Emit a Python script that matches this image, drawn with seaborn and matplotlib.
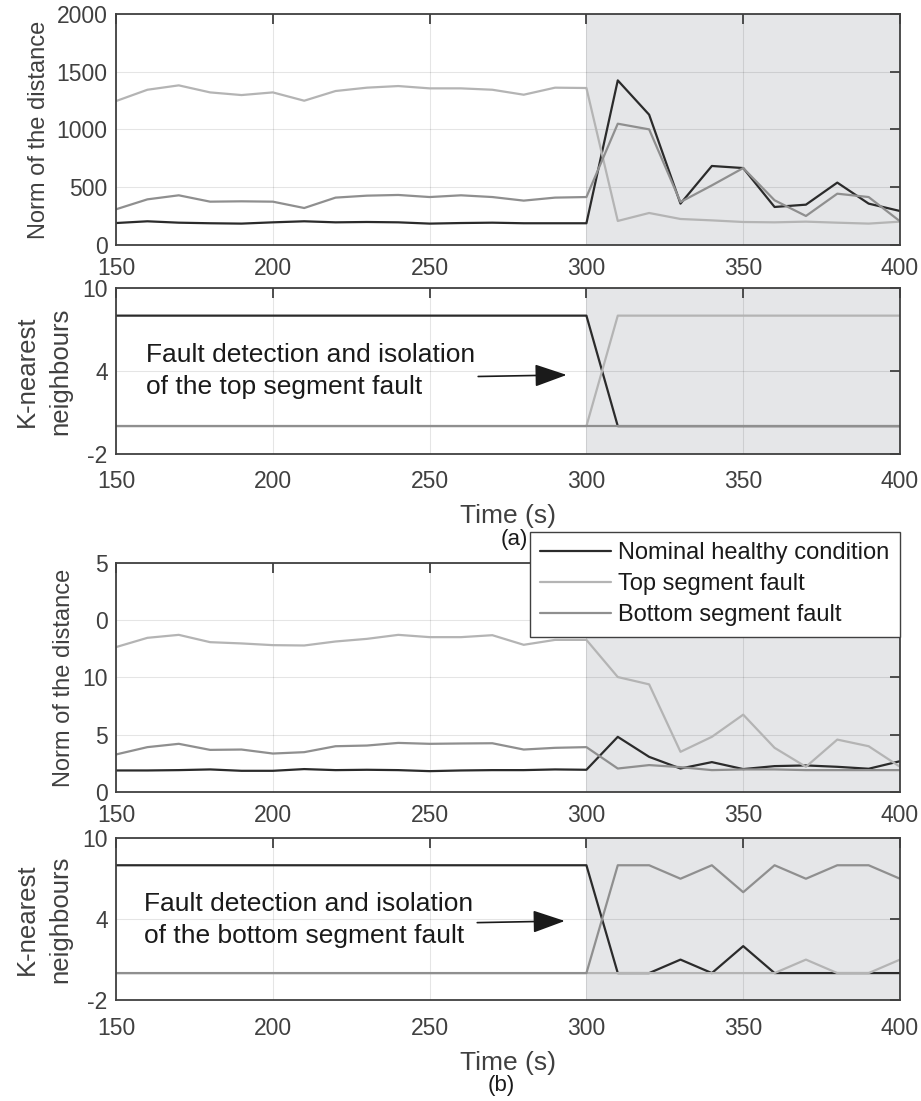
import numpy as np
import pandas as pd
import matplotlib
matplotlib.use('Agg')
import matplotlib.pyplot as plt
from matplotlib.lines import Line2D
import seaborn as sns

# ---- data ----
TIME = list(range(150, 401, 10))
SERIES = ['Nominal healthy condition', 'Top segment fault', 'Bottom segment fault']

# (a) top segment fault case
dist_a_healthy = [190, 205, 193, 188, 185, 196, 205, 196, 199, 196, 185, 190, 193,
                  188, 188, 188, 1425, 1128, 358, 684, 666, 329, 349, 540, 358, 294]
dist_a_top = [1246, 1344, 1382, 1321, 1298, 1321, 1249, 1333, 1362, 1376, 1356, 1356, 1344,
              1301, 1362, 1359, 208, 277, 225, 213, 199, 196, 202, 193, 185, 202]
dist_a_bottom = [309, 395, 430, 375, 378, 375, 320, 410, 427, 433, 415, 430, 415,
                 384, 410, 415, 1050, 1001, 372, 516, 666, 387, 251, 444, 415, 205]
knn_a_healthy = [8] * 16 + [0] * 10
knn_a_top = [0] * 16 + [8] * 10
knn_a_bottom = [0] * 26

# (b) bottom segment fault case
dist_b_healthy = [1.86, 1.86, 1.89, 1.95, 1.83, 1.83, 1.98, 1.89, 1.92, 1.89, 1.80, 1.86, 1.89,
                  1.89, 1.95, 1.92, 4.80, 3.05, 2.03, 2.59, 1.98, 2.24, 2.30, 2.18, 2.01, 2.67]
dist_b_top = [12.65, 13.46, 13.72, 13.08, 12.97, 12.82, 12.79, 13.14, 13.37, 13.72, 13.52, 13.52, 13.69,
              12.85, 13.28, 13.28, 10.03, 9.39, 3.49, 4.80, 6.74, 3.84, 2.18, 4.56, 3.98, 2.18]
dist_b_bottom = [3.26, 3.90, 4.19, 3.66, 3.69, 3.34, 3.46, 3.98, 4.04, 4.27, 4.19, 4.22, 4.24,
                 3.69, 3.84, 3.90, 2.03, 2.33, 2.15, 1.89, 1.95, 1.95, 1.89, 1.89, 1.89, 1.89]
knn_b_healthy = [8] * 16 + [0, 0, 1, 0, 2, 0, 0, 0, 0, 0]
knn_b_top = [0] * 22 + [1, 0, 0, 1]
knn_b_bottom = [0] * 16 + [8, 8, 7, 8, 6, 8, 7, 8, 8, 7]

X_TICKS = [150, 200, 250, 300, 350, 400]
DIST_A_TICKS = [0, 500, 1000, 1500, 2000]
DIST_B_TICKS = [0, 5, 10, 15, 20]
DIST_B_TICKLABELS = ['0', '5', '10', '0', '5']
KNN_TICKS = [-2, 4, 10]
FAULT_START = 300

COLORS = ['#2b2b2b', '#b4b4b4', '#8f8f8f']
AXIS_COLOR = '#404040'
SHADE = '#e5e6e8'

sns.set_theme(style='white')
plt.rcParams['font.family'] = ['Liberation Sans', 'DejaVu Sans']
plt.rcParams['axes.unicode_minus'] = False


def _frame(df_vals):
    return pd.DataFrame({
        'time': TIME * 3,
        'value': [v for s in df_vals for v in s],
        'series': [name for name in SERIES for _ in TIME],
    })


def _style(ax, yticks, ylim, xpad=10):
    ax.axvspan(FAULT_START, TIME[-1], color=SHADE, zorder=0, lw=0)
    ax.set_axisbelow(True)
    ax.grid(True, color='black', alpha=0.1, lw=0.8)
    ax.set_xlim(TIME[0], TIME[-1])
    ax.set_ylim(*ylim)
    ax.set_xticks(X_TICKS)
    ax.set_yticks(yticks)
    ax.tick_params(direction='in', top=True, right=True, length=7, width=1.3,
                   color=AXIS_COLOR, labelcolor=AXIS_COLOR, labelsize=16.5)
    ax.tick_params(axis='x', pad=xpad)
    ax.tick_params(axis='y', pad=6)
    for sp in ax.spines.values():
        sp.set_color(AXIS_COLOR)
        sp.set_linewidth(1.3)
        sp.set_zorder(5)


def _draw(ax, vals):
    sns.lineplot(data=_frame(vals), x='time', y='value', hue='series',
                 hue_order=SERIES, palette=COLORS, linewidth=1.6,
                 estimator=None, legend=False, ax=ax)
    ax.set_xlabel('')
    ax.set_ylabel('')


fig = plt.figure(figsize=(9.21, 11.01), dpi=100)
L, W = 0.126, 0.8512
ax1 = fig.add_axes([L, 0.7775, W, 0.2098])
ax2 = fig.add_axes([L, 0.5879, W, 0.1505])
ax3 = fig.add_axes([L, 0.2809, W, 0.2077])
ax4 = fig.add_axes([L, 0.0917, W, 0.1469])

ARROW = dict(arrowstyle='-|>,head_length=1.0,head_width=0.35',
             color='#1a1a1a', lw=1.2, mutation_scale=20)

# (a)
_draw(ax1, [dist_a_healthy, dist_a_top, dist_a_bottom])
_style(ax1, DIST_A_TICKS, (0, 2000), xpad=9)
ax1.set_ylabel('Norm of the distance', fontsize=17, color=AXIS_COLOR, labelpad=5)

_draw(ax2, [knn_a_healthy, knn_a_top, knn_a_bottom])
_style(ax2, KNN_TICKS, (-2, 10), xpad=12)
ax2.set_ylabel('K-nearest\nneighbours', fontsize=18.5, color=AXIS_COLOR,
               labelpad=7, linespacing=1.5)
ax2.set_xlabel('Time (s)', fontsize=19, color=AXIS_COLOR, labelpad=8)
ax2.text(159.6, 4.0, 'Fault detection and isolation\nof the top segment fault',
         ha='left', va='center', fontsize=19, color='#1a1a1a', linespacing=1.45)
ax2.annotate('', xy=(294.6, 3.71), xytext=(264.6, 3.59), arrowprops=ARROW)
fig.text(514 / 921, 1 - 540 / 1101, '(a)', ha='center', va='center',
         fontsize=16, color='#1a1a1a')

# (b)
_draw(ax3, [dist_b_healthy, dist_b_top, dist_b_bottom])
_style(ax3, DIST_B_TICKS, (0, 20), xpad=9)
ax3.set_yticklabels(DIST_B_TICKLABELS)
ax3.set_ylabel('Norm of the distance', fontsize=17, color=AXIS_COLOR, labelpad=5)

_draw(ax4, [knn_b_healthy, knn_b_top, knn_b_bottom])
_style(ax4, KNN_TICKS, (-2, 10), xpad=12)
ax4.set_ylabel('K-nearest\nneighbours', fontsize=18.5, color=AXIS_COLOR,
               labelpad=7, linespacing=1.5)
ax4.set_xlabel('Time (s)', fontsize=19, color=AXIS_COLOR, labelpad=8)
ax4.text(158.9, 3.94, 'Fault detection and isolation\nof the bottom segment fault',
         ha='left', va='center', fontsize=19, color='#1a1a1a', linespacing=1.45)
ax4.annotate('', xy=(294.0, 3.87), xytext=(264.3, 3.74), arrowprops=ARROW)
fig.text(501 / 921, 1 - 1085 / 1101, '(b)', ha='center', va='center',
         fontsize=16, color='#1a1a1a')

handles = [Line2D([0], [0], color=c, lw=1.6) for c in COLORS]
leg = fig.legend(handles, SERIES, loc='upper right', bbox_to_anchor=(0.9772, 0.5171),
                 frameon=True, fancybox=False, framealpha=1, edgecolor=AXIS_COLOR,
                 fontsize=17, handlelength=3.0, handletextpad=0.3, borderpad=0.45,
                 labelspacing=0.38, borderaxespad=0)
leg.get_frame().set_linewidth(1.0)
for t in leg.get_texts():
    t.set_color('#1a1a1a')

fig.savefig('out.png', dpi=100)
